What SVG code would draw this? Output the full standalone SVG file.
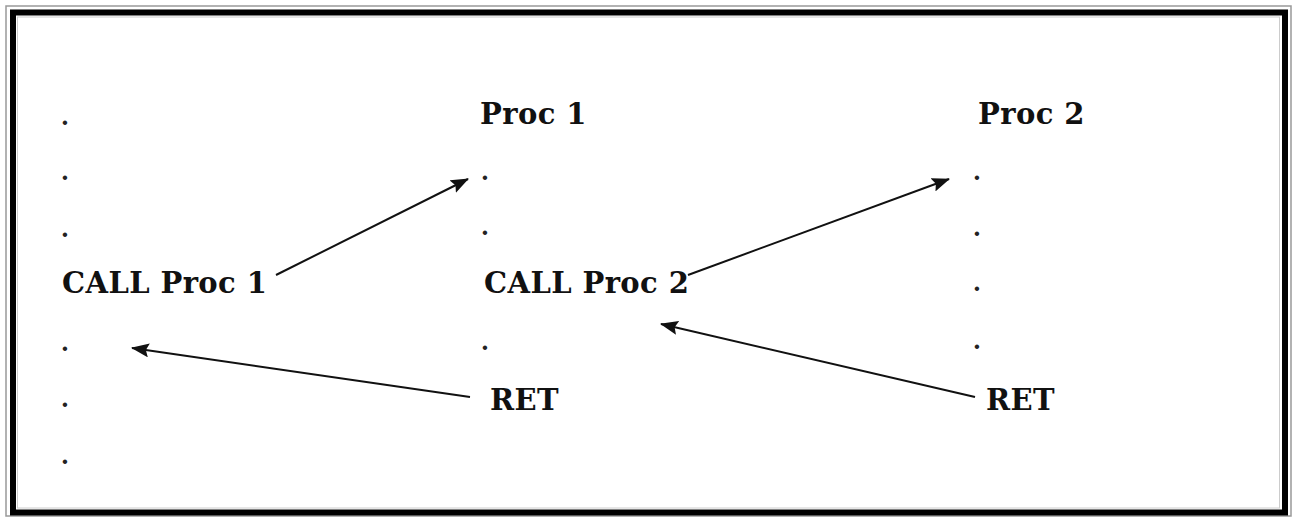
<svg xmlns="http://www.w3.org/2000/svg" width="1295" height="519" viewBox="0 0 1295 519">
<style>
.lbl{font-family:"DejaVu Serif","Liberation Serif",serif;font-weight:bold;font-size:29px;letter-spacing:0.4px;fill:#111}
.dot{font-family:"DejaVu Serif","Liberation Serif",serif;font-weight:bold;font-size:24px;fill:#222;text-anchor:middle}
.conn{stroke:#111;stroke-width:2;fill:none;marker-end:url(#ah)}
</style>
<defs>
<marker id="ah" viewBox="0 0 18 14" refX="17" refY="7" markerWidth="18" markerHeight="14" markerUnits="userSpaceOnUse" orient="auto">
<path d="M0,0 L18,7 L0,14 L3,7 Z" fill="#111"/>
</marker>
</defs>
<rect x="0" y="0" width="1295" height="519" fill="#fff"/>
<rect x="6" y="6" width="1285" height="510" fill="none" stroke="#999" stroke-width="1.5"/>
<rect x="13" y="12.5" width="1272" height="500" fill="none" stroke="#000" stroke-width="6"/>
<rect x="17.5" y="17" width="1262" height="491" fill="none" stroke="#ccc" stroke-width="1"/>
<g id="main">
<text class="dot" x="65" y="125">.</text>
<text class="dot" x="65" y="180">.</text>
<text class="dot" x="65" y="237">.</text>
<text class="lbl" x="62" y="293">CALL Proc 1</text>
<text class="dot" x="65" y="351">.</text>
<text class="dot" x="65" y="407">.</text>
<text class="dot" x="65" y="464">.</text>
</g>
<g id="proc1">
<text class="lbl" x="480" y="124">Proc 1</text>
<text class="dot" x="485" y="180">.</text>
<text class="dot" x="485" y="235">.</text>
<text class="lbl" x="484" y="293">CALL Proc 2</text>
<text class="dot" x="485" y="350">.</text>
<text class="lbl" x="490" y="410">RET</text>
</g>
<g id="proc2">
<text class="lbl" x="978" y="124">Proc 2</text>
<text class="dot" x="977" y="180">.</text>
<text class="dot" x="977" y="236">.</text>
<text class="dot" x="977" y="291">.</text>
<text class="dot" x="977" y="349">.</text>
<text class="lbl" x="986" y="410">RET</text>
</g>
<g id="connectors">
<line class="conn" x1="276" y1="275" x2="468" y2="179"/>
<line class="conn" x1="688" y1="275" x2="949" y2="179"/>
<line class="conn" x1="470" y1="397" x2="132" y2="348"/>
<line class="conn" x1="975" y1="397" x2="661" y2="324"/>
</g>
</svg>
